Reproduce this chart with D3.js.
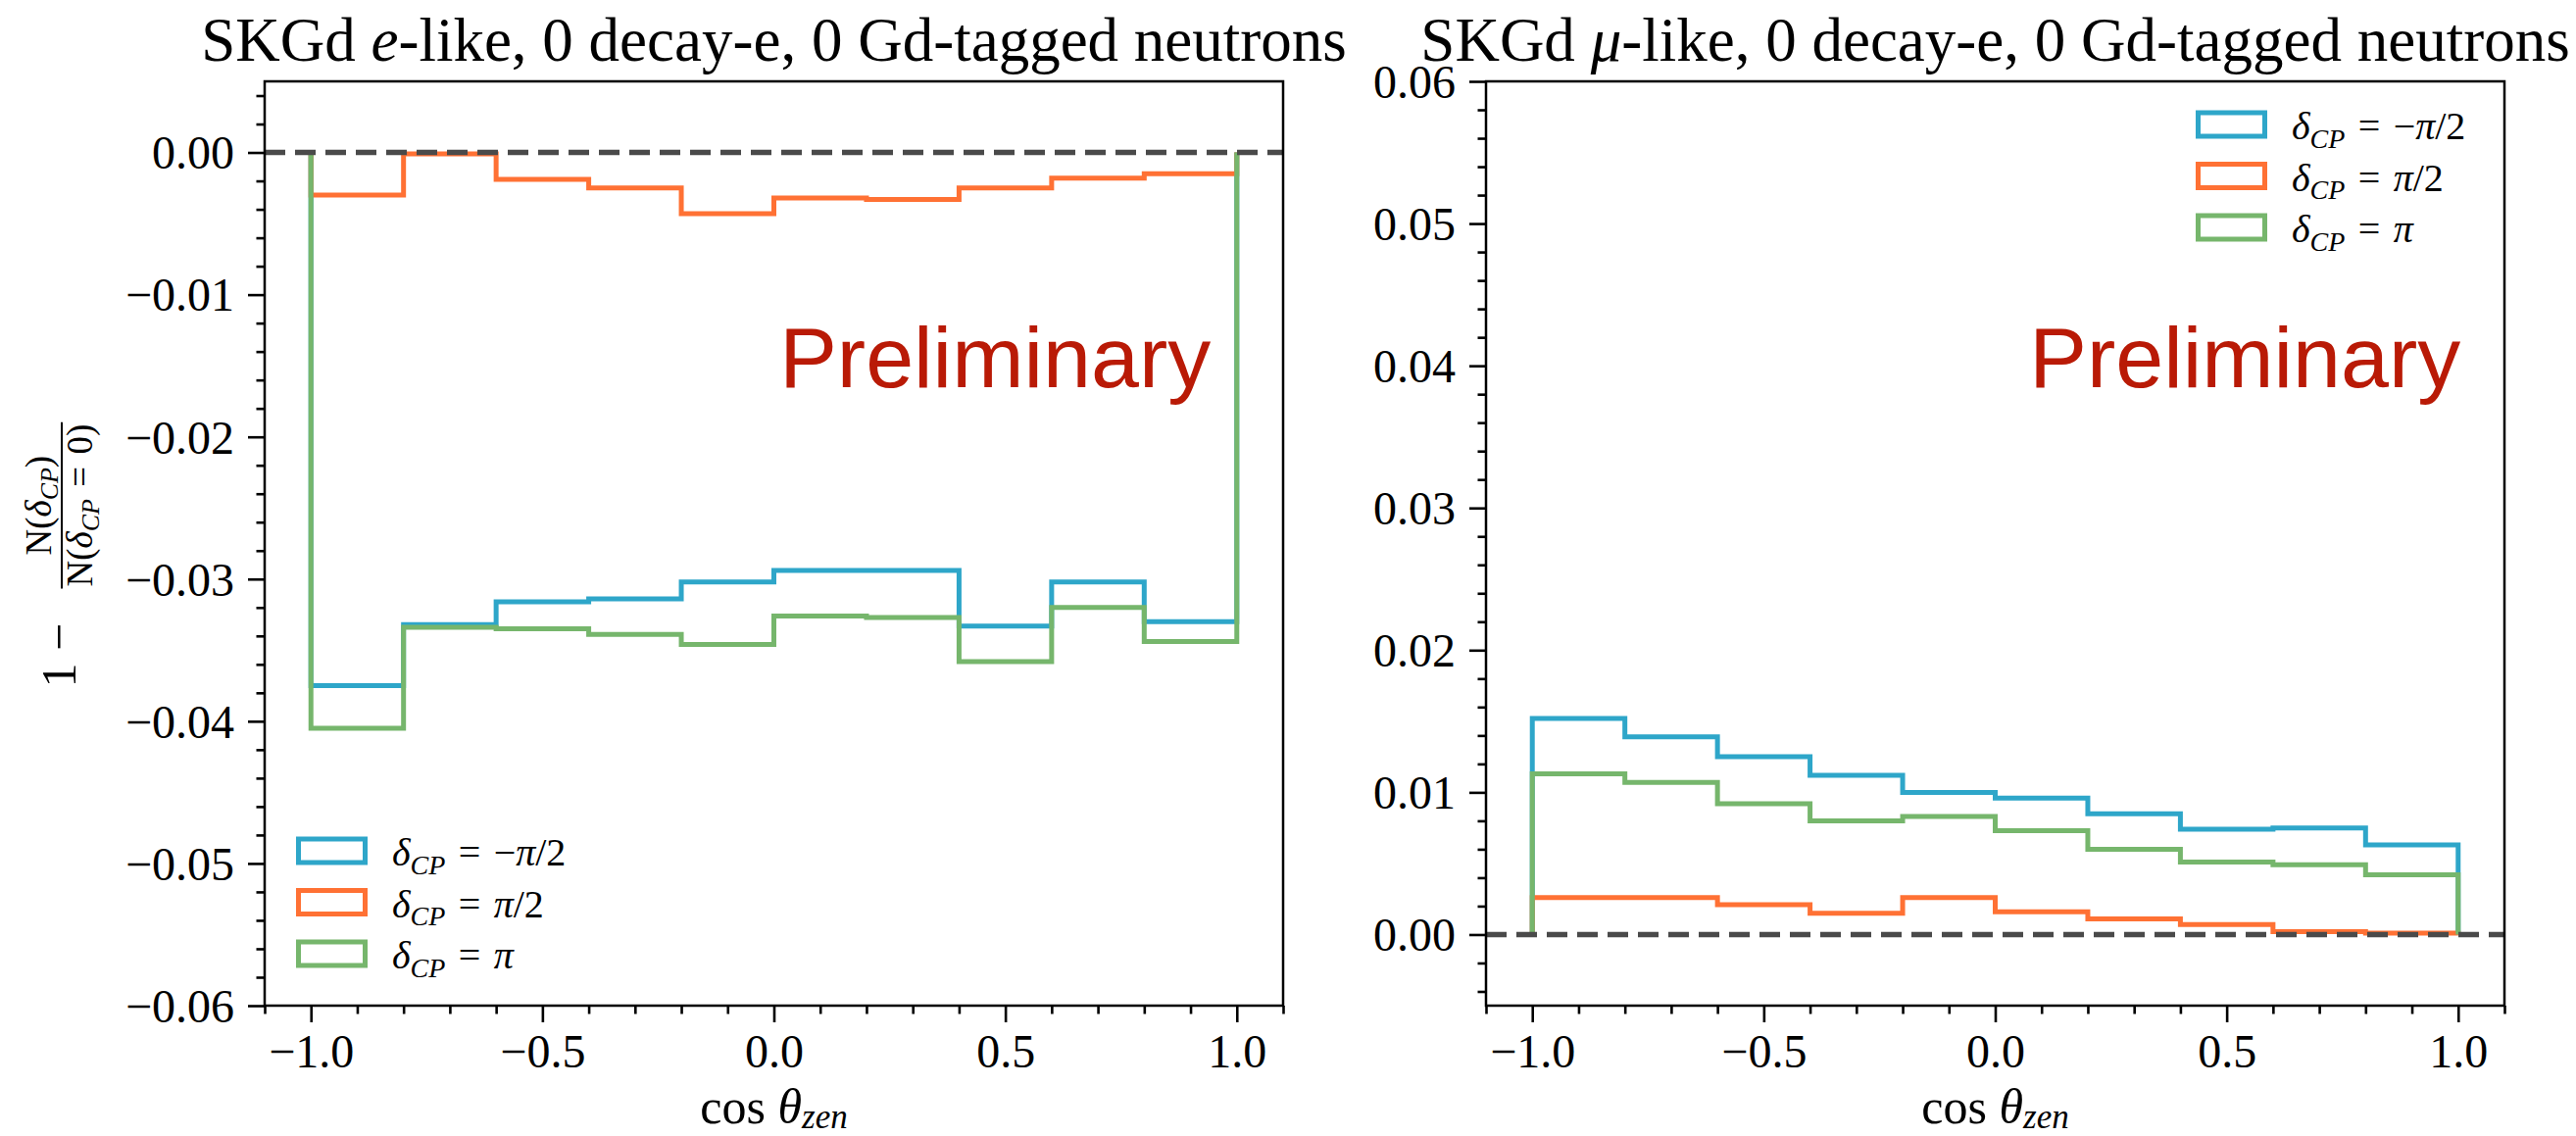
<!DOCTYPE html>
<html><head><meta charset="utf-8">
<script src="https://cdn.jsdelivr.net/npm/d3@7"></script>
<style>
body{margin:0;background:#fff;}
svg{display:block;font-family:"Liberation Serif","DejaVu Serif",serif;}
</style>
</head><body>
<svg id="chart" width="2628" height="1159"></svg>
<script>
// ---------------- DATA ----------------
const binEdges = [-1.0, -0.8, -0.6, -0.4, -0.2, 0.0, 0.2, 0.4, 0.6, 0.8, 1.0];
const seriesKeys = ["minusHalfPi", "halfPi", "pi"];
const legendValues = ["−π/2", "π/2", "π"];
// e-like panel: 1 - N(dCP)/N(dCP=0)
const eLikeMinusHalfPi = [-0.0375, -0.0332, -0.0316, -0.0314, -0.0302, -0.0294, -0.0294, -0.0333, -0.0302, -0.0330];
const eLikeHalfPi      = [-0.0030, -0.0001, -0.0019, -0.0025, -0.0043, -0.0032, -0.0033, -0.0025, -0.0018, -0.0015];
const eLikePi          = [-0.0405, -0.0334, -0.0335, -0.0339, -0.0346, -0.0326, -0.0327, -0.0358, -0.0320, -0.0344];
// mu-like panel
const muLikeMinusHalfPi = [0.0152, 0.0139, 0.0125, 0.0112, 0.0100, 0.0096, 0.0085, 0.0074, 0.0075, 0.0063];
const muLikeHalfPi      = [0.0026, 0.0026, 0.0021, 0.0015, 0.0026, 0.0016, 0.0011, 0.0007, 0.0002, 0.0001];
const muLikePi          = [0.0113, 0.0107, 0.0092, 0.0080, 0.0083, 0.0073, 0.0060, 0.0051, 0.0049, 0.0042];
// axes
const xMajorTicks = [-1.0, -0.5, 0.0, 0.5, 1.0];
const xTickLabels = ["−1.0", "−0.5", "0.0", "0.5", "1.0"];
const eLikeYTicks = [-0.06, -0.05, -0.04, -0.03, -0.02, -0.01, 0.00];
const eLikeYTickLabels = ["−0.06", "−0.05", "−0.04", "−0.03", "−0.02", "−0.01", "0.00"];
const muLikeYTicks = [0.00, 0.01, 0.02, 0.03, 0.04, 0.05, 0.06];
const muLikeYTickLabels = ["0.00", "0.01", "0.02", "0.03", "0.04", "0.05", "0.06"];
const eLikeTitle = [["SKGd ", false], ["e", true], ["-like, 0 decay-e, 0 Gd-tagged neutrons", false]];
const muLikeTitle = [["SKGd ", false], ["μ", true], ["-like, 0 decay-e, 0 Gd-tagged neutrons", false]];
const watermark = "Preliminary";

// ---------------- STYLE / LAYOUT ----------------
const colors = {minusHalfPi: "#2ea6c9", halfPi: "#ff7134", pi: "#76b66c"};
const plotTop = 83, plotBottom = 1026;
const svg = d3.select("#chart");
const SP = "\u2004";

function mathText(sel, parts) {
  parts.forEach(([t, it]) => sel.append("tspan").text(t).attr("font-style", it ? "italic" : "normal"));
}

function legendLabel(textSel, val, size) {
  textSel.attr("font-size", size);
  textSel.append("tspan").text("δ").attr("font-style", "italic");
  textSel.append("tspan").text("CP").attr("font-style", "italic").attr("font-size", size * 0.7).attr("dy", size * 0.22);
  textSel.append("tspan").text(SP + "=" + SP).attr("dy", -size * 0.22);
  if (val.startsWith("−")) { textSel.append("tspan").text("−"); val = val.slice(1); }
  textSel.append("tspan").text("π").attr("font-style", "italic");
  if (val.length > 1) textSel.append("tspan").text(val.slice(1));
}

function drawPanel(cfg) {
  const x = d3.scaleLinear().domain([-1.1, 1.1]).range([cfg.left, cfg.right]);
  const y = d3.scaleLinear().domain(cfg.yDomain).range([plotBottom, plotTop]);
  const g = svg.append("g");

  const clipId = "clip" + cfg.id;
  svg.append("clipPath").attr("id", clipId).append("rect")
    .attr("x", cfg.left).attr("y", plotTop).attr("width", cfg.right - cfg.left).attr("height", plotBottom - plotTop);

  // histograms (step, baseline 0)
  const line = d3.line().x(d => x(d[0])).y(d => y(d[1]));
  const plot = g.append("g").attr("clip-path", `url(#${clipId})`);
  seriesKeys.forEach(k => {
    const vals = cfg.series[k];
    const pts = [[binEdges[0], 0]];
    vals.forEach((v, i) => { pts.push([binEdges[i], v]); pts.push([binEdges[i + 1], v]); });
    pts.push([binEdges[binEdges.length - 1], 0]);
    plot.append("path").attr("d", line(pts)).attr("fill", "none")
      .attr("stroke", colors[k]).attr("stroke-width", 5).attr("stroke-linejoin", "miter");
  });
  // dashed zero line
  plot.append("path").attr("d", line([[-1.1, 0], [1.1, 0]]))
    .attr("stroke", "#4a4a4a").attr("stroke-width", 5.5).attr("stroke-dasharray", "21,10").attr("fill", "none");

  // x axis
  const xMinor = d3.range(-11, 12).map(i => i / 10).filter(v => !xMajorTicks.some(m => Math.abs(m - v) < 1e-9));
  const xAx = g.append("g").attr("transform", `translate(0,${plotBottom})`)
    .call(d3.axisBottom(x).tickValues(xMajorTicks).tickSize(17).tickPadding(12)
      .tickFormat((d, i) => xTickLabels[i]));
  const xAxMin = g.append("g").attr("transform", `translate(0,${plotBottom})`)
    .call(d3.axisBottom(x).tickValues(xMinor).tickSize(8.5).tickFormat(""));
  // y axis
  const step = 0.002;
  const yMinor = d3.range(Math.ceil(cfg.yDomain[0] / step - 1e-6), Math.floor(cfg.yDomain[1] / step + 1e-6) + 1)
    .map(i => +(i * step).toFixed(4)).filter(v => !cfg.yTicks.some(m => Math.abs(m - v) < 1e-9));
  const yAx = g.append("g").attr("transform", `translate(${cfg.left},0)`)
    .call(d3.axisLeft(y).tickValues(cfg.yTicks).tickSize(17).tickPadding(14)
      .tickFormat((d, i) => cfg.yTickLabels[i]));
  const yAxMin = g.append("g").attr("transform", `translate(${cfg.left},0)`)
    .call(d3.axisLeft(y).tickValues(yMinor).tickSize(8.5).tickFormat(""));
  [xAx, xAxMin, yAx, yAxMin].forEach(a => {
    a.select(".domain").remove();
    a.attr("font-family", null).attr("font-size", 48);
    a.selectAll("line").attr("stroke", "#000").attr("stroke-width", 2.6);
    a.selectAll("text").attr("fill", "#000");
  });
  yAx.selectAll("text").attr("dy", "0.34em");

  // frame
  g.append("rect").attr("x", cfg.left).attr("y", plotTop).attr("width", cfg.right - cfg.left)
    .attr("height", plotBottom - plotTop).attr("fill", "none").attr("stroke", "#000").attr("stroke-width", 2.5);

  // title
  const t = g.append("text").attr("x", (cfg.left + cfg.right) / 2).attr("y", 62)
    .attr("text-anchor", "middle").attr("font-size", 63);
  mathText(t, cfg.title);

  // x label
  const xl = g.append("text").attr("x", (cfg.left + cfg.right) / 2).attr("y", 1146)
    .attr("text-anchor", "middle").attr("font-size", 50);
  xl.append("tspan").text("cos ");
  xl.append("tspan").text("θ").attr("font-style", "italic");
  xl.append("tspan").text("zen").attr("font-style", "italic").attr("font-size", 35).attr("dy", 5);

  // watermark
  g.append("text").attr("x", cfg.left + cfg.prelim[0] * (cfg.right - cfg.left))
    .attr("y", plotTop + cfg.prelim[1] * (plotBottom - plotTop))
    .attr("text-anchor", "end").attr("font-family", "'Liberation Sans', Arial, sans-serif")
    .attr("font-size", 88).attr("fill", "#b91a06").text(watermark);

  // legend
  const lg = g.append("g").attr("transform", `translate(${cfg.legend[0]},${cfg.legend[1]})`);
  seriesKeys.forEach((k, i) => {
    const row = lg.append("g").attr("transform", `translate(0,${i * 52.5})`);
    row.append("rect").attr("x", 2.5).attr("y", -14).attr("width", 68).attr("height", 24)
      .attr("fill", "none").attr("stroke", colors[k]).attr("stroke-width", 5);
    legendLabel(row.append("text").attr("x", 98).attr("y", 13), legendValues[i], 40);
  });
}

drawPanel({
  id: "e", left: 270, right: 1309, yDomain: [-0.06, 0.005],
  yTicks: eLikeYTicks, yTickLabels: eLikeYTickLabels, title: eLikeTitle,
  series: {minusHalfPi: eLikeMinusHalfPi, halfPi: eLikeHalfPi, pi: eLikePi},
  prelim: [0.929, 0.331], legend: [302, 870]
});
drawPanel({
  id: "mu", left: 1516, right: 2555, yDomain: [-0.005, 0.06],
  yTicks: muLikeYTicks, yTickLabels: muLikeYTickLabels, title: muLikeTitle,
  series: {minusHalfPi: muLikeMinusHalfPi, halfPi: muLikeHalfPi, pi: muLikePi},
  prelim: [0.957, 0.331], legend: [2240, 129]
});

// y label: 1 - N(dCP)/N(dCP=0)
(function () {
  const g = svg.append("g").attr("transform", `translate(0,${(plotTop + plotBottom) / 2}) rotate(-90)`);
  g.append("text").attr("x", -147).attr("y", 77).attr("font-size", 50).text("1 −");
  const fs = 37;
  const num = g.append("text").attr("y", 52).attr("font-size", fs).attr("text-anchor", "middle");
  const den = g.append("text").attr("y", 94).attr("font-size", fs).attr("text-anchor", "middle");
  function frac(sel, tail) {
    sel.append("tspan").text("N(");
    sel.append("tspan").text("δ").attr("font-style", "italic");
    sel.append("tspan").text("CP").attr("font-style", "italic").attr("font-size", fs * 0.7).attr("dy", fs * 0.2);
    sel.append("tspan").text(tail).attr("dy", -fs * 0.2);
  }
  frac(num, ")");
  frac(den, SP + "=" + SP + "0)");
  const dw = den.node().getComputedTextLength();
  const x0 = -46;
  const cx = x0 + dw / 2 + 2;
  num.attr("x", cx); den.attr("x", cx);
  g.append("line").attr("x1", x0).attr("x2", x0 + dw + 4).attr("y1", 63).attr("y2", 63)
    .attr("stroke", "#000").attr("stroke-width", 2);
})();
</script>
</body></html>
